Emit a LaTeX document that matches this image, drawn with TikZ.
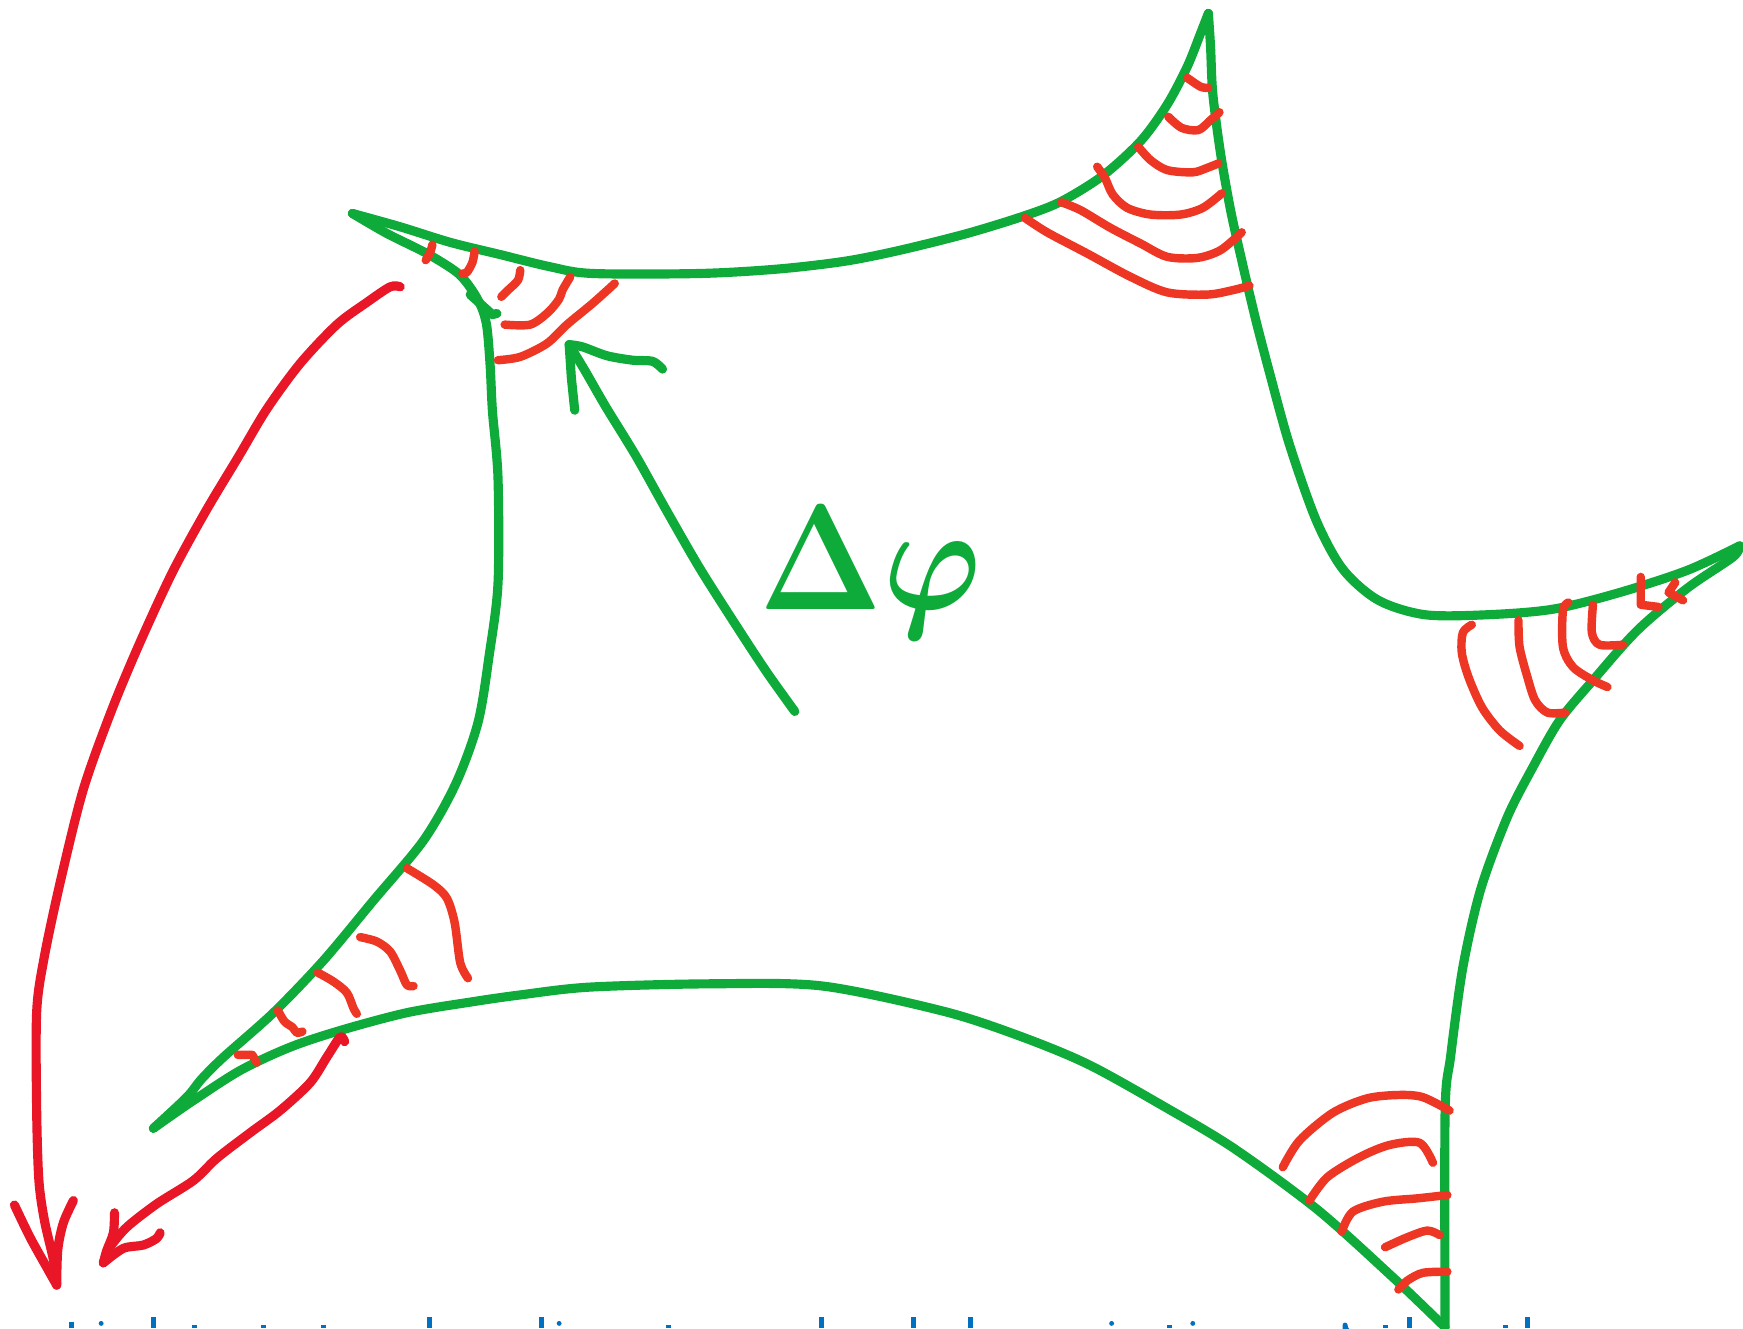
\documentclass[tikz,border=0pt]{standalone}
\usepackage{amsmath}
\usetikzlibrary{calc}
\definecolor{skgreen}{RGB}{14,170,58}
\definecolor{skred}{RGB}{232,22,38}
\definecolor{skorange}{RGB}{238,54,36}
\definecolor{skblue}{RGB}{0,112,192}

\begin{document}
\begin{tikzpicture}[x=0.011116cm,y=-0.011116cm,line cap=round,line join=round,
    edge/.style={skgreen,line width=2.6pt},
    hatch/.style={skorange,line width=2.4pt},
    ray/.style={skred,line width=2.6pt},
    sym/.style={text=skgreen,anchor=base west,inner sep=0pt,font=\Huge},
    glyph/.style={skblue,line width=1.4pt,line cap=butt}]
  \useasboundingbox (0,0) rectangle (1568,1195);
  % tips of the patch
  \coordinate (tl) at (317,192);
  \coordinate (tr) at (1087,12);
  \coordinate (rt) at (1565,491);
  \coordinate (br) at (1300,1194);
  \coordinate (bl) at (138,1015);
  % green outline
  \draw[edge] plot[smooth] coordinates {(tl) (360,204) (405,218) (450,229) (495,240) (533,246) (630,246) (700,242) (760,235) (810,225) (870,210) (922,194) (955,181) (992,158) (1026,127) (1050,94) (1068,60) (1080,30) (tr)};
  \draw[edge] plot[smooth] coordinates {(tr) (1089,42) (1091,84) (1098,138) (1107,189) (1117,234) (1129,285) (1142,335) (1160,400) (1184,468) (1208,512) (1240,540) (1282,553) (1338,553) (1397,548) (1457,533) (1518,513) (rt)};
  \draw[edge] plot[smooth] coordinates {(rt) (1559,501) (1518,529) (1473,567) (1433,612) (1403,648) (1379,690) (1356,735) (1332,800) (1316,870) (1305,950) (1300,1000) (br)};
  \draw[edge] plot[smooth] coordinates {(br) (1253,1149) (1185,1088) (1110,1033) (1050,997) (980,958) (920,933) (850,910) (740,887) (640,885) (530,888) (468,895) (426,901) (366,911) (306,927) (261,942) (216,963) (171,992) (bl)};
  \draw[edge] plot[smooth] coordinates {(bl) (168,987) (181,971) (201,951) (246,911) (291,864) (336,810) (381,756) (410,705) (430,650) (440,590) (448,525) (448,430) (443,370) (441,330) (438,294) (433,276) (424,260) (411,245) (384,228) (348,210) (tl)};
  \draw[edge] (423,265) -- (443,283) -- (447,282);
  % green arrow
  \coordinate (gtip) at (512,310);
  \draw[edge] plot[smooth] coordinates {(715,640) (690,605) (665,567) (630,512) (600,460) (572,410) (545,366) (526,333) (gtip)};
  \draw[edge] (517,369) -- (514,340) -- (gtip);
  \draw[edge] plot[smooth] coordinates {(gtip) (524,312) (546,320) (569,324) (587,325) (596,332)};
  \node[sym] (dphi) at (683,548) {\scalebox{1.5}[1.72]{\boldmath$\Delta\varphi$}};
  % hatching, top left
  \draw[hatch] plot[smooth] coordinates {(389,220) (387,227) (383,234)};
  \draw[hatch] plot[smooth] coordinates {(427,226) (425,236) (420,245) (416,246)};
  \draw[hatch] plot[smooth] coordinates {(468,243) (466,252) (457,261) (451,267)};
  \draw[hatch] plot[smooth] coordinates {(513,249) (506,261) (503,269) (493,281) (477,292) (454,292)};
  \draw[hatch] plot[smooth] coordinates {(553,255) (533,273) (510,292) (492,309) (468,321) (448,324)};
  % hatching, top right
  \draw[hatch] plot[smooth] coordinates {(1068,70) (1080,78) (1087,79)};
  \draw[hatch] plot[smooth] coordinates {(1051,105) (1063,115) (1078,117) (1089,108) (1097,101)};
  \draw[hatch] plot[smooth] coordinates {(1024,132) (1035,144) (1050,153) (1073,155) (1086,151) (1096,147)};
  \draw[hatch] plot[smooth] coordinates {(987,150) (994,160) (1001,175) (1014,187) (1035,193) (1062,193) (1082,187) (1099,174)};
  \draw[hatch] plot[smooth] coordinates {(955,182) (972,189) (999,205) (1026,219) (1050,231) (1077,232) (1098,225) (1117,209)};
  \draw[hatch] plot[smooth] coordinates {(922,196) (942,209) (978,228) (1017,249) (1050,263) (1086,265) (1109,261) (1124,257)};
  % hatching, right
  \draw[hatch] plot[smooth] coordinates {(1324,562) (1316,569) (1315,587) (1321,609) (1333,636) (1349,657) (1367,671)};
  \draw[hatch] plot[smooth] coordinates {(1366,558) (1367,582) (1374,609) (1381,630) (1392,641) (1408,641)};
  \draw[hatch] plot[smooth] coordinates {(1411,542) (1406,549) (1406,582) (1415,600) (1433,612) (1446,618)};
  \draw[hatch] plot[smooth] coordinates {(1433,544) (1432,569) (1439,580) (1460,580)};
  \draw[hatch] (1476,519) -- (1476,544) -- (1492,546);
  \draw[hatch] (1507,524) -- (1501,533) -- (1514,540);
  % hatching, bottom right
  \draw[hatch] plot[smooth] coordinates {(1154,1050) (1169,1026) (1199,1001) (1230,988) (1259,985) (1280,987) (1304,999)};
  \draw[hatch] plot[smooth] coordinates {(1178,1080) (1194,1059) (1223,1041) (1250,1030) (1277,1028) (1289,1046)};
  \draw[hatch] plot[smooth] coordinates {(1207,1108) (1217,1090) (1244,1081) (1275,1078) (1302,1075)};
  \draw[hatch] plot[smooth] coordinates {(1246,1122) (1266,1113) (1284,1107) (1295,1111)};
  \draw[hatch] plot[smooth] coordinates {(1258,1160) (1266,1152) (1280,1145) (1302,1144)};
  % hatching, bottom left
  \draw[hatch] plot[smooth] coordinates {(366,781) (390,796) (402,808) (409,830) (414,866) (421,880)};
  \draw[hatch] plot[smooth] coordinates {(324,843) (339,847) (351,856) (360,873) (366,886) (372,887)};
  \draw[hatch] plot[smooth] coordinates {(286,875) (300,883) (312,893) (318,907) (321,912)};
  \draw[hatch] plot[smooth] coordinates {(250,909) (256,919) (263,924) (267,929) (272,928)};
  \draw[hatch] (214,949) -- (227,949) -- (231,956);
  % red rays
  \coordinate (r1) at (51,1156);
  \draw[ray] plot[smooth] coordinates {(360,258) (351,258) (330,272) (303,292) (270,327) (240,368) (215,410) (185,460) (155,515) (125,580) (100,640) (75,710) (55,790) (40,860) (33,910) (33,1000) (35,1062) (40,1098) (48,1133) (r1)};
  \draw[ray] plot[smooth] coordinates {(13,1084) (27,1113) (42,1140) (r1)};
  \draw[ray] plot[smooth] coordinates {(66,1080) (57,1100) (52,1124) (r1)};
  \coordinate (r2) at (93,1136);
  \draw[ray] plot[smooth] coordinates {(310,937) (306,933) (294,951) (279,974) (252,999) (225,1019) (195,1042) (174,1062) (141,1083) (114,1104) (99,1122) (r2)};
  \draw[ray] plot[smooth] coordinates {(103,1091) (102,1109) (96,1125) (r2)};
  \draw[ray] plot[smooth] coordinates {(r2) (111,1123) (129,1120) (141,1114) (144,1109)};
  % caption, cut off at the lower edge
  \foreach \x in {138,386,487,739,822,873,1268,1374}
    \draw[glyph] (\x,1185) -- (\x,1195);
  \foreach \x in {64}
    \draw[glyph] (\x,1189) -- (\x,1195);
  \foreach \x in {175,237,291,601,1052,1246,1354}
    \draw[glyph] (\x,1192) -- (\x,1195);
  \foreach \x in {91,503,1000,1073}
    \fill[skblue] (\x,1190.5) circle (2.2);
  \draw[glyph,line cap=round] (1210,1195) -- (1210,1192) arc[start angle=180,end angle=60,radius=7];
\end{tikzpicture}
\end{document}
